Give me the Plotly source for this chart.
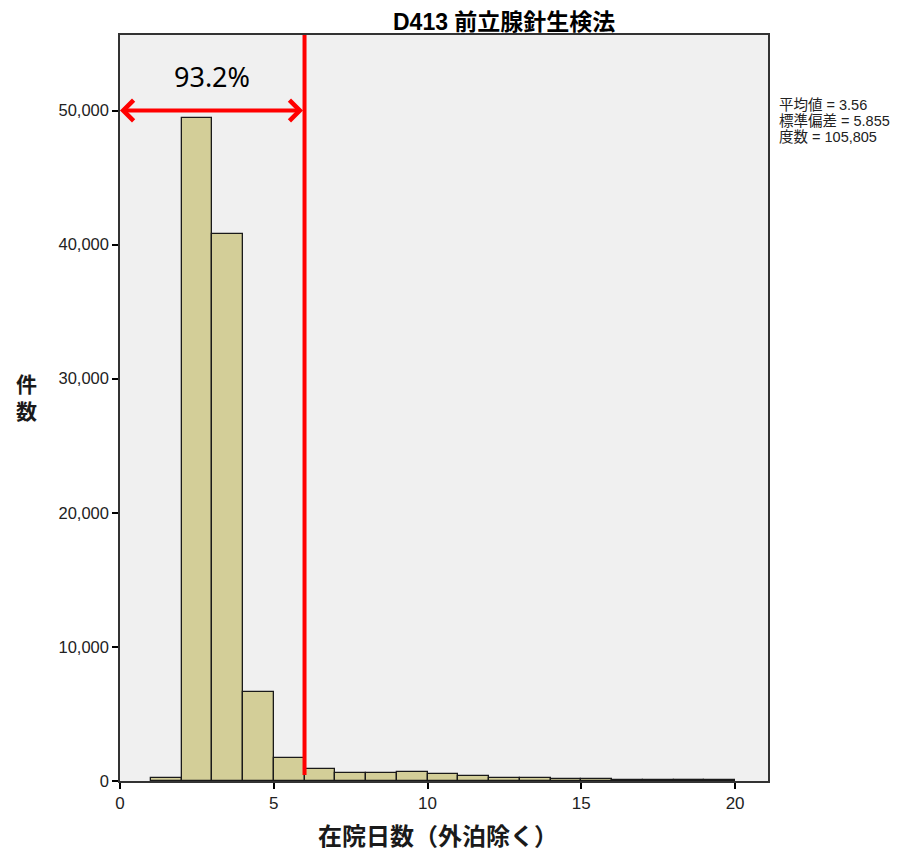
import plotly.graph_objects as go

# Data (bin start, count)
bin_starts = [1, 2, 3, 4, 5, 6, 7, 8, 9, 10, 11, 12, 13, 14, 15, 16, 17, 18, 19]
counts = [250, 49460, 40780, 6660, 1690, 870, 600, 600, 650, 550, 375, 250, 200, 150, 125, 100, 80, 70, 60]
bin_width = 1

x_ticks = [0, 5, 10, 15, 20]
y_ticks = [0, 10000, 20000, 30000, 40000, 50000]
y_tick_labels = ["0", "10,000", "20,000", "30,000", "40,000", "50,000"]

title_text = "D413 前立腺針生検法"
x_title = "在院日数（外泊除く）"
y_title = "件<br>数"
stats_lines = ["平均値 = 3.56", "標準偏差 = 5.855", "度数 = 105,805"]
cutoff = 6
pct_label = "93.2%"
arrow_y = 50000

FONT = "Liberation Sans, Arial, Noto Sans CJK JP, sans-serif"

centers = [s + bin_width / 2 for s in bin_starts]

fig = go.Figure()
fig.add_trace(go.Bar(
    x=centers, y=counts, width=[bin_width] * len(counts),
    marker=dict(color="#D3CE98", line=dict(color="#1a1a1a", width=1.3)),
    showlegend=False, hoverinfo="x+y",
))

# red cutoff line
fig.add_shape(type="line", x0=cutoff, x1=cutoff, y0=450, y1=55630, yref="y", xref="x",
              line=dict(color="#FF0000", width=4))

# double-headed arrow
fig.add_annotation(x=0, y=arrow_y, ax=cutoff, ay=arrow_y, xref="x", yref="y",
                   axref="x", ayref="y", text="", showarrow=True,
                   arrowhead=4, startarrowhead=4, arrowside="end+start",
                   arrowsize=1, startarrowsize=1, arrowwidth=4, arrowcolor="#FF0000")
fig.add_annotation(x=cutoff / 2, y=arrow_y, xref="x", yref="y", yshift=34,
                   text=pct_label, showarrow=False,
                   font=dict(family="Noto Sans, Open Sans, sans-serif", size=27, color="#000000"))

fig.add_annotation(x=0.5, y=1.0, xref="paper", yref="paper", yanchor="bottom", xshift=60,
                   yshift=-2,
                   text="<b>" + title_text + "</b>", showarrow=False,
                   font=dict(family=FONT, size=23, color="#000000"))

fig.add_annotation(x=0.49, y=0.0, xref="paper", yref="paper", yanchor="top",
                   yshift=-40, text="<b>" + x_title + "</b>", showarrow=False,
                   font=dict(family=FONT, size=24, color="#1a1a1a"))

fig.add_annotation(x=0, y=0.5, xref="paper", yref="paper", xanchor="center", xshift=-94,
                   yshift=10,
                   text="<b>" + y_title + "</b>", showarrow=False,
                   font=dict(family=FONT, size=21, color="#1a1a1a"))

for i, line in enumerate(stats_lines):
    fig.add_annotation(x=1.0, y=0.9, xref="paper", yref="paper", xanchor="left", yanchor="middle",
                       xshift=9, yshift=-i * 16 + 5, align="left",
                       text=line, showarrow=False,
                       font=dict(family=FONT, size=14.5, color="#222222"))

fig.update_layout(
    width=921, height=857,
    margin=dict(l=112, r=161, t=27, b=84),
    paper_bgcolor="white", plot_bgcolor="#F0F0F0",
    bargap=0,
    font=dict(family=FONT, color="#222222"),
    xaxis=dict(range=[0, 21.07], tickvals=x_ticks, ticks="outside", ticklen=6,
               tickcolor="#000000", tickwidth=1.5,
               showline=True, linecolor="#333333", linewidth=1.5, mirror=True,
               showgrid=False, zeroline=False, tickfont=dict(size=17, color="#222222")),
    yaxis=dict(range=[0, 55630], tickvals=y_ticks, ticktext=y_tick_labels,
               ticks="outside", ticklen=6, tickcolor="#000000", tickwidth=1.5,
               showline=True, linecolor="#333333", linewidth=1.5, mirror=True,
               showgrid=False, zeroline=False, tickfont=dict(size=16.5, color="#222222")),
)

fig.write_html("out.html")
